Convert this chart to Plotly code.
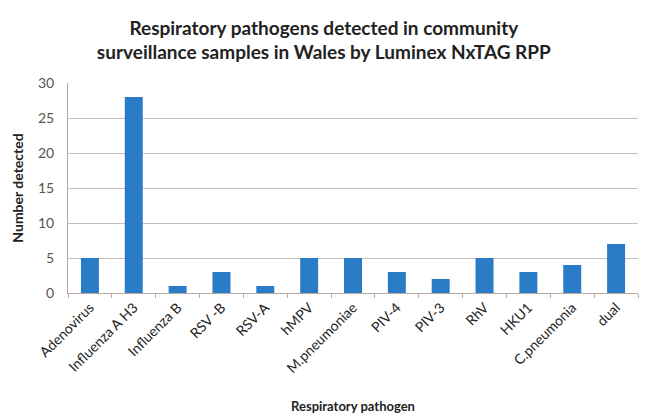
import plotly.graph_objects as go

pathogens = ["Adenovirus", "Influenza A H3", "Influenza B", "RSV -B", "RSV-A", "hMPV",
             "M.pneumoniae", "PIV-4", "PIV-3", "RhV", "HKU1", "C.pneumonia", "dual"]
detected = [5, 28, 1, 3, 1, 5, 5, 3, 2, 5, 3, 4, 7]

font = "Lato, 'Open Sans', sans-serif"

fig = go.Figure(go.Bar(
    x=pathogens,
    y=detected,
    marker=dict(color="#2a7cc7", line=dict(width=0)),
    width=0.41
))

# page body has an 8px margin, so the figure is sized to fit inside the window
fig.update_layout(
    title=dict(
        text="<b>Respiratory pathogens detected in community<br>surveillance samples in Wales by Luminex NxTAG RPP</b>",
        x=0.492, xanchor="center", y=0.935, yanchor="top",
        font=dict(family=font, size=19, color="#222222")
    ),
    width=642, height=409,
    margin=dict(l=60, r=12, t=75, b=124),
    plot_bgcolor="white", paper_bgcolor="white",
    font=dict(family=font, size=13, color="#333333"),
    showlegend=False
)

fig.update_xaxes(
    tickangle=-45, showline=True, linecolor="#b8a89e",
    ticks="outside", ticklen=4, tickcolor="#b8a89e",
    tickson="boundaries", automargin=False,
    tickfont=dict(size=14, color="#222222"),
    title=dict(text="<b>Respiratory pathogen</b>", font=dict(size=13, color="#222222"), standoff=26)
)
fig.update_yaxes(
    range=[0, 30], dtick=5, showgrid=True, gridcolor="#c9bdb6",
    showline=True, linecolor="#b8a89e", zeroline=False,
    ticks="outside", ticklen=10, tickcolor="rgba(0,0,0,0)",
    automargin=False,
    tickfont=dict(size=14, color="#555555"),
    title=dict(text="<b>Number detected</b>", font=dict(size=14, color="#222222"), standoff=11)
)

fig.write_html("out.html")
